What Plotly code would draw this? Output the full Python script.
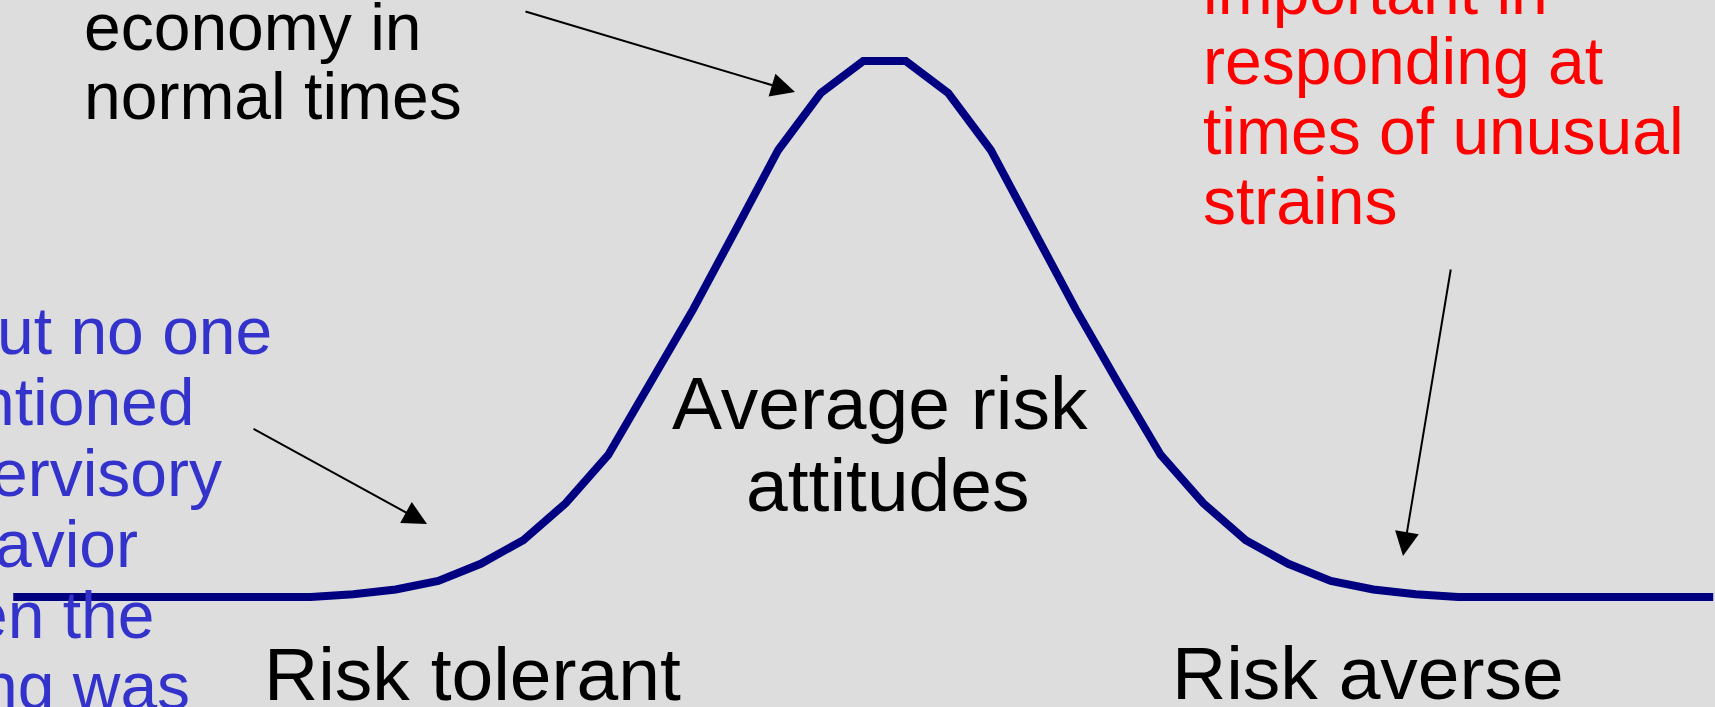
import plotly.graph_objects as go

# ---- data ----
risk_index = [-20.5, -19.5, -18.5, -17.5, -16.5, -15.5, -14.5, -13.5, -12.5, -11.5,
              -10.5, -9.5, -8.5, -7.5, -6.5, -5.5, -4.5, -3.5, -2.5, -1.5, -0.5,
              0.5, 1.5, 2.5, 3.5, 4.5, 5.5, 6.5, 7.5, 8.5, 9.5, 10.5, 11.5, 12.5,
              13.5, 14.5, 15.5, 16.5, 17.5, 18.5, 19.5]
share = [0, 0, 0, 0, 0, 0, 0, 0, 0.5, 1.4,
         3.0, 6.2, 10.6, 17.5, 26.5, 39.9, 53.7, 68.5, 83.4, 94.0, 100,
         100, 94.0, 83.4, 68.5, 53.7, 39.9, 26.5, 17.5, 10.6, 6.2, 3.0, 1.4, 0.5,
         0, 0, 0, 0, 0, 0, 0]

top_left_lines = ["economy in", "normal times"]
red_lines = ["important in", "responding at", "times of unusual", "strains"]
blue_lines = ["ut no one", "ntioned", "ervisory", "avior", "en the", "ng was"]
center_lines = ["Average risk", "attitudes"]
left_label = "Risk tolerant"
right_label = "Risk averse"

# ---- layout helpers ----
W, H = 1715, 707
BG = "#DDDDDD"
FONT = "Liberation Sans, Arial, sans-serif"


def px(x):
    return x / W


def py(y):
    return 1 - y / H


def text_ann(text, x, baseline, size, color, anchor="left"):
    return dict(text=text, x=px(x), y=py(baseline - 0.3625 * size),
                xref="paper", yref="paper", xanchor=anchor, yanchor="middle",
                showarrow=False, font=dict(family=FONT, size=size, color=color))


def arrow_ann(tip, tail):
    return dict(text="", x=px(tip[0]), y=py(tip[1]), xref="paper", yref="paper",
                ax=tail[0] - tip[0], ay=tail[1] - tip[1], axref="pixel", ayref="pixel",
                showarrow=True, arrowhead=2, arrowsize=2.4, arrowwidth=2,
                arrowcolor="black", standoff=0, startstandoff=0)


fig = go.Figure()
fig.add_trace(go.Scatter(x=risk_index, y=share, mode="lines",
                         line=dict(color="#000080", width=8),
                         hoverinfo="skip", showlegend=False))

anns = []
SMALL = 66
BIG = 75
for i, t in enumerate(top_left_lines):
    anns.append(text_ann(t, 82, 51 + 69 * i, SMALL, "black"))
for i, t in enumerate(red_lines):
    anns.append(text_ann(t, 1201, 15 + 70 * i, SMALL, "#FF0000"))
blue_right = [274, 197, 224, 140, 157, 192]
for i, t in enumerate(blue_lines):
    anns.append(text_ann(t, blue_right[i], 355 + 71 * i, SMALL, "#3333CC", anchor="right"))
anns.append(text_ann(center_lines[0], 880, 430, BIG, "black", anchor="center"))
anns.append(text_ann(center_lines[1], 888, 512, BIG, "black", anchor="center"))
anns.append(text_ann(left_label, 262, 701, BIG, "black"))
anns.append(text_ann(right_label, 1170, 700, BIG, "black"))

anns.append(arrow_ann((795, 92), (524, 11)))
anns.append(arrow_ann((427, 524), (252, 428)))
anns.append(arrow_ann((1403, 556), (1451, 268)))

# axis ranges so that index step = 42.5 px centred at 884.5 px, baseline at 597 px
x0 = -884.5 / 42.5
x1 = (W - 884.5) / 42.5
ys = 536 / 100.0
fig.update_layout(
    width=W, height=H, margin=dict(l=0, r=0, t=0, b=0),
    paper_bgcolor=BG, plot_bgcolor=BG,
    xaxis=dict(visible=False, range=[x0, x1], fixedrange=True),
    yaxis=dict(visible=False, range=[(597 - 707) / ys, 597 / ys], fixedrange=True),
    annotations=anns,
    showlegend=False,
)

fig.write_html(
    "out.html",
    config={"displayModeBar": False},
    post_script="document.body.style.margin='0';document.body.style.overflow='hidden';"
                "document.documentElement.style.background='#DDDDDD';",
)
